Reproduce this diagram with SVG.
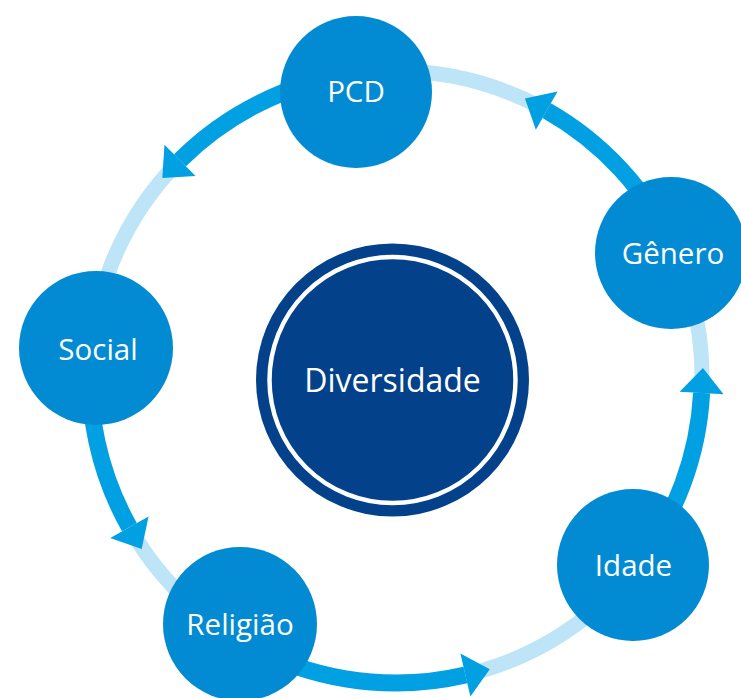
<svg xmlns="http://www.w3.org/2000/svg" width="741" height="698" viewBox="0 0 741 698">
<style>
.ring{fill:none;stroke:#BEE4F8;stroke-width:15}
.arrow{fill:none;stroke:#00A0E3;stroke-width:17;marker-end:url(#head)}
.node{fill:#028BD3}
.label{fill:#FFFFFF;font-family:"Open Sans","DejaVu Sans",sans-serif;font-size:29.5px;text-anchor:middle}
</style>
<defs>
<marker id="head" markerUnits="userSpaceOnUse" viewBox="0 -22 25 44" refX="0" refY="0" markerWidth="25" markerHeight="44" orient="auto" overflow="visible">
<path d="M0,-22 L25,0 L0,22 Z" fill="#00A0E3"/>
</marker>
</defs>
<g id="connectors">
<circle class="ring" cx="396" cy="377" r="306"/>
<path class="arrow" d="M673.3,247.7 A306,306 0 0 0 546.7,110.7"/>
<path class="arrow" d="M353.4,74 A306,306 0 0 0 180,160.3"/>
<path class="arrow" d="M91.2,350.3 A306,306 0 0 0 129.4,527.2"/>
<path class="arrow" d="M233.8,636.5 A306,306 0 0 0 465.4,675"/>
<path class="arrow" d="M637.1,565.4 A306,306 0 0 0 701.6,393"/>
</g>
<g id="diversidade">
<circle cx="392.5" cy="380" r="136.5" fill="#03418A"/>
<circle cx="392.5" cy="380" r="123" fill="none" stroke="#FFFFFF" stroke-width="4.5"/>
<text class="label" x="392.5" y="392" style="font-size:32px">Diversidade</text>
</g>
<g id="pcd">
<circle class="node" cx="356" cy="92" r="76"/>
<text class="label" x="356" y="102">PCD</text>
</g>
<g id="genero">
<circle class="node" cx="671" cy="253" r="76"/>
<text class="label" x="673" y="264">Gênero</text>
</g>
<g id="idade">
<circle class="node" cx="633" cy="565" r="76"/>
<text class="label" x="633.5" y="576">Idade</text>
</g>
<g id="religiao">
<circle class="node" cx="240" cy="624" r="77"/>
<text class="label" x="240" y="635">Religião</text>
</g>
<g id="social">
<circle class="node" cx="96" cy="348" r="77"/>
<text class="label" x="98" y="360">Social</text>
</g>
</svg>
